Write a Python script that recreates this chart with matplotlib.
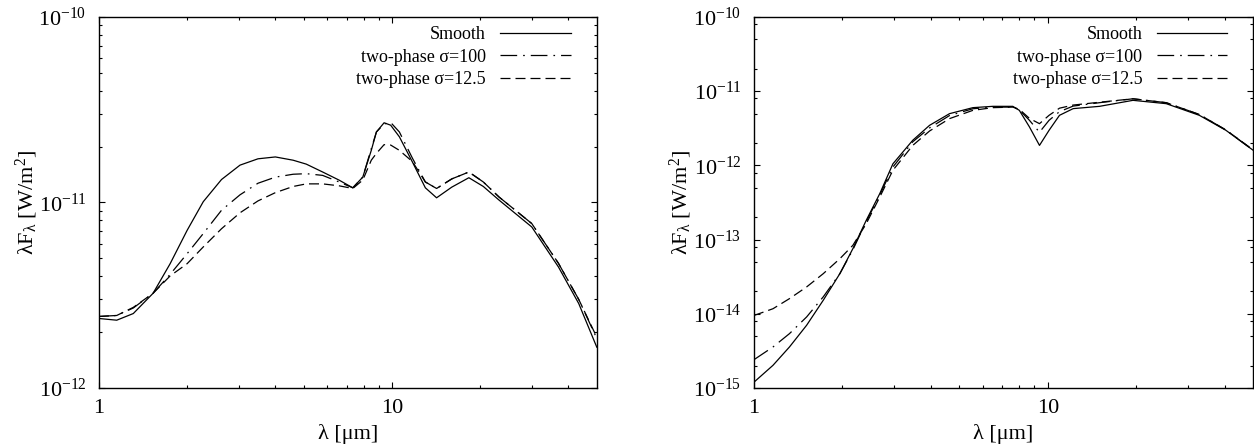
import matplotlib
matplotlib.use("Agg")
import matplotlib.pyplot as plt
from matplotlib.ticker import FixedLocator, NullFormatter, LogFormatterMathtext

# ===== DATA =====
# left panel
lam_a = [1.0, 1.15, 1.31, 1.53, 1.75, 2.0, 2.27, 2.62, 3.03, 3.49, 4.0, 4.6, 5.1, 5.8,
         6.6, 7.35, 7.95, 8.5, 8.85, 9.4, 9.9, 10.6, 11.75, 13.0, 14.2, 16.0, 18.3,
         20.5, 23.2, 30.0, 37.0, 43.4, 50.0]
smooth_a = [2.37, 2.32, 2.52, 3.24, 4.68, 7.08, 10.1, 13.3, 15.9, 17.2, 17.6, 16.9, 16.1, 14.6,
            13.2, 12.0, 13.7, 19.1, 24.0, 26.9, 26.1, 22.6, 16.5, 12.0, 10.6, 12.1, 13.6,
            12.2, 10.3, 7.38, 4.49, 2.85, 1.66]
s100_a = [2.43, 2.46, 2.70, 3.24, 4.10, 5.30, 6.80, 9.08, 11.0, 12.7, 13.7, 14.2, 14.3, 14.0,
          12.9, 12.0, 13.7, 19.5, 24.0, 26.5, 27.0, 24.0, 17.3, 12.9, 11.9, 13.4, 14.6,
          12.9, 10.7, 7.7, 4.7, 3.0, 1.85]
s125_a = [2.43, 2.46, 2.72, 3.24, 4.02, 4.68, 5.76, 7.22, 8.8, 10.2, 11.3, 12.2, 12.6, 12.6,
          12.3, 11.9, 13.2, 16.9, 18.4, 20.5, 20.4, 19.1, 16.6, 12.9, 11.9, 13.4, 14.6,
          12.9, 10.7, 7.7, 4.7, 3.0, 1.88]
scale_a = 1e-12

# right panel
lam_b = [1.0, 1.16, 1.32, 1.51, 1.72, 1.96, 2.17, 2.41, 2.68, 2.97, 3.47, 3.96, 4.63, 5.56,
         6.5, 7.6, 8.0, 8.66, 9.37, 10.1, 10.96, 12.2, 15.0, 19.5, 25.3, 32.8, 40.4, 50.0]
smooth_b = [1.2e-15, 2.02e-15, 3.57e-15, 7.0e-15, 1.52e-14, 3.48e-14, 7.55e-14, 1.82e-13,
            4.17e-13, 1.05e-12, 2.18e-12, 3.47e-12, 4.98e-12, 6.0e-12, 6.25e-12, 6.25e-12,
            5.52e-12, 3.30e-12, 1.86e-12, 2.97e-12, 4.73e-12, 5.82e-12, 6.25e-12, 7.53e-12,
            6.79e-12, 4.73e-12, 2.97e-12, 1.6e-12]
s100_b = [2.41e-15, 3.57e-15, 5.4e-15, 9.06e-15, 1.69e-14, 3.48e-14, 7.3e-14, 1.75e-13,
          4.0e-13, 9.5e-13, 2.08e-12, 3.2e-12, 4.7e-12, 5.8e-12, 6.1e-12, 6.1e-12,
          5.6e-12, 4.05e-12, 2.8e-12, 4.05e-12, 5.3e-12, 6.3e-12, 7.0e-12, 7.9e-12,
          7.0e-12, 4.85e-12, 3.0e-12, 1.6e-12]
s125_b = [9.5e-15, 1.17e-14, 1.6e-14, 2.3e-14, 3.47e-14, 5.53e-14, 8.37e-14, 1.64e-13,
          3.75e-13, 8.6e-13, 1.86e-12, 2.91e-12, 4.27e-12, 5.52e-12, 6.0e-12, 6.1e-12,
          5.7e-12, 4.3e-12, 3.65e-12, 4.73e-12, 5.9e-12, 6.5e-12, 7.1e-12, 7.9e-12,
          7.0e-12, 4.85e-12, 3.0e-12, 1.62e-12]

labels = ["Smooth", "two-phase σ=100", "two-phase σ=12.5"]
yticks_a = [1e-12, 1e-11, 1e-10]
yticks_b = [1e-15, 1e-14, 1e-13, 1e-12, 1e-11, 1e-10]

# ===== STYLE =====
plt.rcParams["font.family"] = ["Liberation Serif", "DejaVu Serif"]
plt.rcParams["mathtext.fontset"] = "custom"
plt.rcParams["mathtext.rm"] = "Liberation Serif"
plt.rcParams["mathtext.it"] = "Liberation Serif"
plt.rcParams["mathtext.bf"] = "Liberation Serif:bold"
plt.rcParams["lines.scale_dashes"] = False

styles = [
    dict(ls="-"),
    dict(dashes=(12, 4.3, 1.2, 4.3)),
    dict(dashes=(7.2, 3.6)),
]

fig = plt.figure(figsize=(12.54, 4.47), dpi=100)
ax_a = fig.add_axes([0.0789, 0.132, 0.397, 0.830])
ax_b = fig.add_axes([0.6013, 0.132, 0.398, 0.830])


def setup(ax, yticks, y_minor):
    ax.set_xscale("log")
    ax.set_yscale("log")
    ax.set_xlim(1, 50)
    ax.set_ylim(yticks[0], yticks[-1])
    ax.xaxis.set_major_locator(FixedLocator([1, 10]))
    ax.xaxis.set_major_formatter(matplotlib.ticker.FixedFormatter(["1", "10"]))
    ax.xaxis.set_minor_locator(FixedLocator([2, 3, 4, 5, 6, 7, 8, 9, 20, 30, 40]))
    ax.xaxis.set_minor_formatter(NullFormatter())
    ax.yaxis.set_major_locator(FixedLocator(yticks))
    ax.yaxis.set_major_formatter(LogFormatterMathtext())
    minors = [m * t for t in yticks[:-1] for m in y_minor]
    ax.yaxis.set_minor_locator(FixedLocator(minors))
    ax.yaxis.set_minor_formatter(NullFormatter())
    ax.tick_params(which="both", direction="in", top=True, right=True, width=0.8,
                   labelsize=16, color="black")
    ax.tick_params(which="major", length=4.5)
    ax.tick_params(which="minor", length=2.3)
    ax.tick_params(axis="x", pad=8)
    ax.tick_params(axis="y", pad=9)
    for sp in ax.spines.values():
        sp.set_linewidth(1.0)
    ax.set_xlabel("λ [μm]", fontsize=16, labelpad=4)
    ax.set_ylabel(r"λF$_{λ}$ [W/m$^{2}$]", fontsize=16, labelpad=-1)


for ax, lam, series, scale in [(ax_a, lam_a, [smooth_a, s100_a, s125_a], scale_a),
                               (ax_b, lam_b, [smooth_b, s100_b, s125_b], 1.0)]:
    for vals, lab, st in zip(series, labels, styles):
        ax.plot(lam, [v * scale for v in vals], color="black", lw=0.9, label=lab, **st)
    ax.legend(loc="upper right", bbox_to_anchor=(0.948, 0.975), frameon=False,
              markerfirst=False, fontsize=13, handlelength=3.9, handletextpad=0.8,
              labelspacing=0.3, borderpad=0, borderaxespad=0)

setup(ax_a, yticks_a, [2, 3, 4, 5, 6, 7, 8, 9])
setup(ax_b, yticks_b, [2, 5, 8])

fig.savefig("out.png", dpi=100)
